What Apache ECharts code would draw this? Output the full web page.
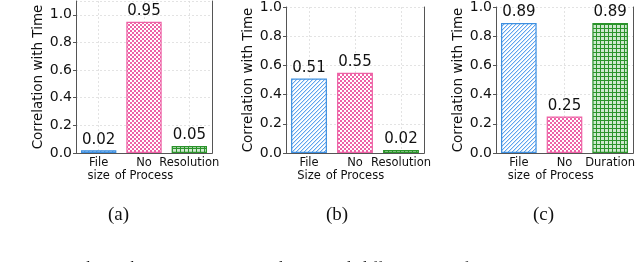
<!DOCTYPE html>
<html><head><meta charset="utf-8">
<script src="https://cdn.jsdelivr.net/npm/echarts@6/dist/echarts.min.js"></script>
<style>html,body{margin:0;padding:0;background:#fff}#c{width:640px;height:262px}</style>
</head><body><div id="c"></div>
<script>
const catsA = ['File\nsize', 'No\nof Process', 'Resolution'];
const valsA = [0.02, 0.95, 0.05];
const catsB = ['File\nSize', 'No\nof Process', 'Resolution'];
const valsB = [0.51, 0.55, 0.02];
const catsC = ['File\nsize', 'No\nof Process', 'Duration'];
const valsC = [0.89, 0.25, 0.89];
const yTicks = [0, 0.2, 0.4, 0.6, 0.8, 1.0];
const panelLabels = ['(a)', '(b)', '(c)'];
const captionText = 'Fig. 4:  Correlation  between  computational  time  and  different  input  features';

const BLUE = '#3d8fe0', PINK = '#ee62a6', GREEN = '#2b942b';
function mk(size, draw) {
  const c = document.createElement('canvas'); c.width = size; c.height = size;
  const g = c.getContext('2d'); draw(g, size); return c;
}
const patBlue = mk(4, (g, s) => {
  g.fillStyle = '#fff'; g.fillRect(0, 0, s, s);
  g.fillStyle = '#5ea3ee';
  for (let x = 0; x < s; x++) g.fillRect(x, s - 1 - x, 1, 1);
  g.fillStyle = '#cfe3f9';
  for (let x = 0; x < s; x++) g.fillRect(x, (s - x) % s, 1, 1);
});
const patPink = mk(4, (g, s) => {
  g.fillStyle = '#fff'; g.fillRect(0, 0, s, s);
  g.fillStyle = PINK;
  g.fillRect(0, 0, 2, 2); g.fillRect(2, 2, 2, 2);
});
const patGreen = mk(4, (g, s) => {
  g.fillStyle = '#cfe9cf'; g.fillRect(0, 0, s, s);
  g.fillStyle = GREEN;
  g.fillRect(0, 0, s, 1); g.fillRect(0, 0, 1, s);
});
const fills = [{image: patBlue, repeat: 'repeat'}, {image: patPink, repeat: 'repeat'}, {image: patGreen, repeat: 'repeat'}];
const edges = [BLUE, PINK, GREEN];

const grids = [
  {left: 76, top: 1, width: 136, height: 152},
  {left: 286, top: 6, width: 138, height: 147},
  {left: 496, top: 6, width: 137, height: 147}
];
const maxes = [1.1, 1.0, 1.0];
const cats = [catsA, catsB, catsC];
const vals = [valsA, valsB, valsC];
const frame = {show: true, lineStyle: {color: '#555', width: 1}};

const xAxes = [], yAxes = [];
cats.forEach((c, i) => {
  xAxes.push({
    type: 'category', gridIndex: i, data: c, position: 'bottom',
    axisLine: frame, axisTick: {show: false},
    axisLabel: {color: '#111', fontSize: 11.5, fontFamily: 'DejaVu Sans', lineHeight: 12.5, margin: 4, interval: 0},
    splitLine: {show: true, alignWithLabel: true, lineStyle: {color: '#dcdcdc', type: [2, 2], width: 0.8}}
  });
  xAxes.push({
    type: 'category', gridIndex: i, data: c, position: 'top',
    axisLine: frame, axisTick: {show: false}, axisLabel: {show: false}, splitLine: {show: false}
  });
});
maxes.forEach((m, i) => {
  yAxes.push({
    type: 'value', gridIndex: i, min: 0, max: m, interval: 0.2, position: 'left',
    name: 'Correlation with Time', nameLocation: 'middle', nameGap: 21,
    nameTextStyle: {color: '#111', fontSize: 13.5, fontFamily: 'DejaVu Sans'},
    axisLine: frame,
    axisTick: {show: true, length: 3, lineStyle: {color: '#555'}},
    axisLabel: {color: '#111', fontSize: 14, fontFamily: 'DejaVu Sans', margin: 4,
      showMaxLabel: m <= 1.0,
      formatter: v => (v > 1.0001 ? '' : v.toFixed(1))},
    splitLine: {show: true, lineStyle: {color: '#dcdcdc', type: [2, 2], width: 0.8}}
  });
  yAxes.push({
    type: 'value', gridIndex: i, min: 0, max: m, interval: 0.2, position: 'right',
    axisLine: frame, axisTick: {show: false}, axisLabel: {show: false}, splitLine: {show: false}
  });
});

const option = {
  animation: false,
  grid: grids.map(g => Object.assign({show: false}, g)),
  xAxis: xAxes,
  yAxis: yAxes,
  series: vals.map((v, i) => ({
    type: 'bar', xAxisIndex: 2 * i, yAxisIndex: 2 * i, barCategoryGap: '22%',
    data: v.map((x, j) => ({value: x, itemStyle: {color: fills[j], borderColor: edges[j], borderWidth: 1.2}})),
    label: {show: true, position: 'top', distance: 3, color: '#111', fontSize: 15, fontFamily: 'DejaVu Sans',
      formatter: p => p.value.toFixed(2)}
  })),
  graphic: panelLabels.map((t, i) => ({
    type: 'text', left: [108, 326, 533][i], top: 206,
    style: {text: t, font: '19px "Liberation Serif"', fill: '#111'}
  })).concat([{
    type: 'text', left: 0, top: 261,
    style: {text: captionText, font: '16px "Liberation Serif"', fill: '#111'}
  }])
};
echarts.init(document.getElementById('c'), null, {renderer: 'canvas'}).setOption(option);
</script></body></html>
